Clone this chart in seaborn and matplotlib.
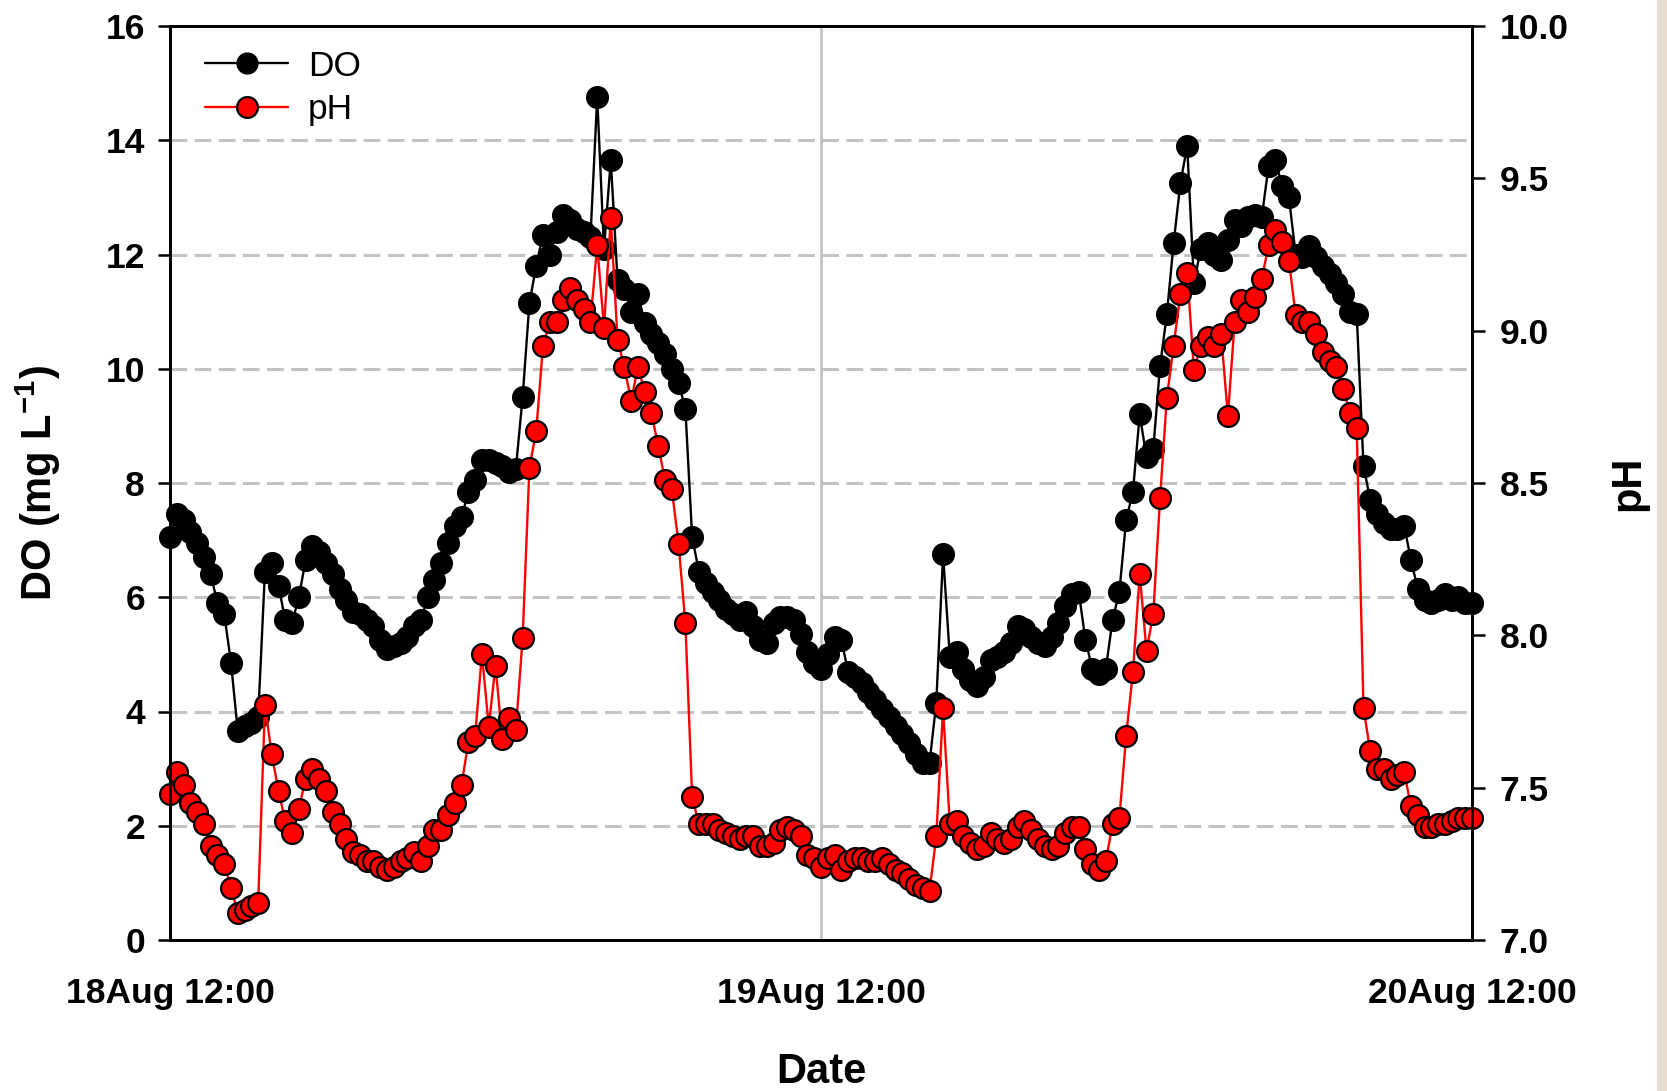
import matplotlib
matplotlib.use("Agg")
import matplotlib.pyplot as plt
import matplotlib.dates as mdates
import matplotlib.ticker as mticker
import matplotlib.patches as mpatches
import pandas as pd
import seaborn as sns

# Logger record: 15-minute readings from 18 Aug 12:00 to 20 Aug 12:00
start_time = "2013-08-18 12:00"
interval = "15min"

# Dissolved oxygen (mg L-1)
do_mg_l = [
    7.05, 7.45, 7.35, 7.15, 6.95, 6.7, 6.4, 5.9, 5.7, 4.85, 3.65, 3.75, 3.8, 3.9,
    6.45, 6.6, 6.2, 5.6, 5.55, 6.0, 6.65, 6.9, 6.8, 6.6, 6.4, 6.15, 5.95, 5.75,
    5.7, 5.6, 5.5, 5.25, 5.1, 5.15, 5.2, 5.3, 5.5, 5.6, 6.0, 6.3, 6.6, 6.95,
    7.25, 7.4, 7.85, 8.05, 8.4, 8.4, 8.35,
    8.3, 8.2, 8.25, 9.5, 11.15, 11.8, 12.35, 12.0, 12.4, 12.7, 12.6, 12.45,
    12.4, 12.3, 14.75, 12.1, 13.65, 11.55, 11.4, 11.0, 11.3, 10.8, 10.6, 10.45,
    10.25, 10.0, 9.75, 9.3, 7.05, 6.45, 6.25, 6.1, 5.95, 5.8, 5.7, 5.6, 5.75,
    5.5, 5.25, 5.2, 5.55, 5.65, 5.65, 5.6, 5.35, 5.05, 4.85, 4.75,
    5.0, 5.3, 5.25, 4.7, 4.6, 4.5, 4.35, 4.2, 4.05, 3.9, 3.75, 3.6, 3.45, 3.25,
    3.1, 3.1, 4.15, 6.75,
    4.95, 5.05, 4.75, 4.55, 4.45, 4.6, 4.9, 4.95, 5.05, 5.2, 5.5, 5.45, 5.3,
    5.2, 5.15, 5.3, 5.55, 5.85, 6.05, 6.1, 5.25, 4.75, 4.65, 4.75, 5.6, 6.1,
    7.35, 7.85, 9.2, 8.45, 8.6, 10.05, 10.95, 12.2, 13.25, 13.9,
    11.5, 12.1, 12.2, 12.0, 11.9, 12.25, 12.6, 12.5, 12.65, 12.7, 12.65, 13.55,
    13.65, 13.2, 13.0, 12.0, 11.95, 12.15, 11.95, 11.8, 11.65, 11.5, 11.3, 11.0,
    10.95, 8.3, 7.7, 7.45, 7.3, 7.2, 7.2, 7.25, 6.65, 6.15, 5.95, 5.9, 5.95,
    6.05, 5.95, 6.0, 5.9, 5.9,
]

# pH
ph_values = [
    7.48, 7.55, 7.51, 7.45, 7.42, 7.38, 7.31, 7.28, 7.25, 7.17, 7.09, 7.10, 7.11, 7.12,
    7.77, 7.61, 7.49, 7.39, 7.35, 7.43, 7.53, 7.56, 7.53, 7.49, 7.42, 7.38, 7.33,
    7.29, 7.28, 7.26, 7.26, 7.24, 7.23, 7.24, 7.26, 7.27, 7.29, 7.26, 7.31, 7.36,
    7.36, 7.41, 7.45, 7.51, 7.65, 7.67, 7.94, 7.70, 7.90, 7.66, 7.73, 7.69, 7.99,
    8.55, 8.67, 8.95, 9.03, 9.03, 9.10, 9.14, 9.10, 9.07, 9.03, 9.28, 9.01, 9.37,
    8.97, 8.88, 8.77, 8.88, 8.80, 8.73, 8.62, 8.51, 8.48, 8.30, 8.04, 7.47,
    7.38, 7.38, 7.38, 7.36, 7.35, 7.34, 7.33, 7.34, 7.34, 7.31, 7.31, 7.32, 7.36,
    7.37, 7.36, 7.34, 7.28, 7.27, 7.24,
    7.27, 7.28, 7.23, 7.26, 7.27, 7.27, 7.26, 7.26, 7.27, 7.25, 7.23, 7.22, 7.20,
    7.18, 7.17, 7.16, 7.34, 7.76,
    7.38, 7.39, 7.34, 7.32, 7.30, 7.31, 7.35, 7.33, 7.32, 7.33, 7.37, 7.39, 7.36,
    7.33, 7.31, 7.30, 7.31, 7.35, 7.37, 7.37, 7.30, 7.25, 7.23, 7.26, 7.38, 7.40,
    7.67, 7.88, 8.20, 7.95, 8.07, 8.45, 8.78, 8.95, 9.12, 9.19, 8.87, 8.95, 8.98,
    8.95, 8.99, 8.72, 9.03, 9.10, 9.06, 9.11, 9.17, 9.28, 9.33, 9.29, 9.23,
    9.05, 9.03, 9.03, 8.99, 8.93, 8.90, 8.88, 8.81, 8.73, 8.68, 7.76, 7.62, 7.56,
    7.56, 7.53, 7.54, 7.55, 7.44, 7.41, 7.37, 7.37, 7.38, 7.38, 7.39, 7.40, 7.40, 7.40,
]

do_ticks = [0, 2, 4, 6, 8, 10, 12, 14, 16]
ph_ticks = [7.0, 7.5, 8.0, 8.5, 9.0, 9.5, 10.0]
x_start, x_mid, x_end = "2013-08-18 12:00", "2013-08-19 12:00", "2013-08-20 12:00"

times = pd.date_range(start_time, periods=len(do_mg_l), freq=interval)
df = pd.DataFrame({"time": times, "DO": do_mg_l, "pH": ph_values})

sns.set_theme(style="white")
plt.rcParams["font.family"] = ["Liberation Sans", "DejaVu Sans"]
plt.rcParams["mathtext.fontset"] = "custom"
plt.rcParams["mathtext.rm"] = "Liberation Sans"
plt.rcParams["mathtext.bf"] = "Liberation Sans:bold"
for key in ("text.color", "axes.labelcolor", "xtick.color", "ytick.color"):
    plt.rcParams[key] = "black"

TICK_FS = 25.5
LEGEND_FS = 25.5
LABEL_FS = 30
MS = 15

fig = plt.figure(figsize=(16.67, 10.91), dpi=100)
fig.patch.set_facecolor("white")
# textured paper strip along the right edge
fig.add_artist(mpatches.Rectangle((1657 / 1667, 0), 10 / 1667, 1,
                                  transform=fig.transFigure,
                                  facecolor="#e6ddd0", edgecolor="none"))

ax = fig.add_axes([170 / 1667, 1 - 940 / 1091, 1302 / 1667, 914 / 1091])
ax2 = ax.twinx()

# grid: dashed horizontal lines on DO scale, one solid vertical line at midday
for g in do_ticks[1:-1]:
    ax.axhline(g, color="#c3c3c3", lw=2.2, ls=(0, (5.5, 2.4)), zorder=0)
ax.axvline(pd.Timestamp(x_mid), color="#c3c3c3", lw=2, zorder=0)

common = dict(marker="o", markersize=MS, markeredgewidth=1.6,
              markeredgecolor="black", linewidth=1.7, clip_on=False,
              estimator=None, legend=False)
sns.lineplot(data=df, x="time", y="DO", ax=ax, color="black",
             markerfacecolor="black", **common)
sns.lineplot(data=df, x="time", y="pH", ax=ax2, color="red",
             markerfacecolor="red", **common)

ax.set_xlim(pd.Timestamp(x_start), pd.Timestamp(x_end))
ax.set_ylim(0, 16)
ax2.set_ylim(7.0, 10.0)
ax.set_yticks(do_ticks)
ax2.set_yticks(ph_ticks)
ax2.yaxis.set_major_formatter(mticker.FormatStrFormatter("%.1f"))

ax.xaxis.set_major_locator(mdates.HourLocator(byhour=[12]))
ax.xaxis.set_minor_locator(mdates.HourLocator(byhour=[0]))
ax.xaxis.set_major_formatter(mdates.DateFormatter("%d%b %H:%M"))

for a in (ax, ax2):
    a.grid(False)
    for s in a.spines.values():
        s.set_color("black")
        s.set_linewidth(2)
    a.tick_params(which="both", direction="out", length=9, width=1.8,
                  color="black", labelcolor="black", labelsize=TICK_FS)

ax.tick_params(axis="x", which="both", pad=18)
ax.tick_params(axis="y", left=True, pad=9)
ax2.tick_params(axis="y", right=True, pad=11)
for lab in ax.get_xticklabels() + ax.get_yticklabels() + ax2.get_yticklabels():
    lab.set_fontweight("bold")

ax.set_xlabel("Date", fontsize=LABEL_FS, fontweight="bold", color="black")
ax.set_ylabel(r"DO (mg L$^{\mathbf{-1}}$)", fontsize=LABEL_FS, fontweight="bold",
              color="black")
ax2.set_ylabel("pH", fontsize=LABEL_FS, fontweight="bold", rotation=90, color="black")
ax.xaxis.set_label_coords(0.5, -0.122)
ax.yaxis.set_label_coords(-0.082, 0.5)
ax2.yaxis.set_label_coords(1.105, 0.5)

handles = [
    plt.Line2D([], [], color="black", lw=1.7, marker="o", markersize=MS,
               markerfacecolor="black", markeredgecolor="black"),
    plt.Line2D([], [], color="red", lw=1.7, marker="o", markersize=MS,
               markerfacecolor="red", markeredgecolor="black", markeredgewidth=1.6),
]
leg = ax2.legend(handles, ["DO", "pH"], loc="upper left", bbox_to_anchor=(0.027, 0.974),
                 frameon=False, fontsize=LEGEND_FS, handlelength=2.35, handletextpad=0.55,
                 labelspacing=0.3, borderaxespad=0, borderpad=0)
for t in leg.get_texts():
    t.set_color("black")

fig.savefig("out.png", dpi=100, facecolor=fig.get_facecolor())
